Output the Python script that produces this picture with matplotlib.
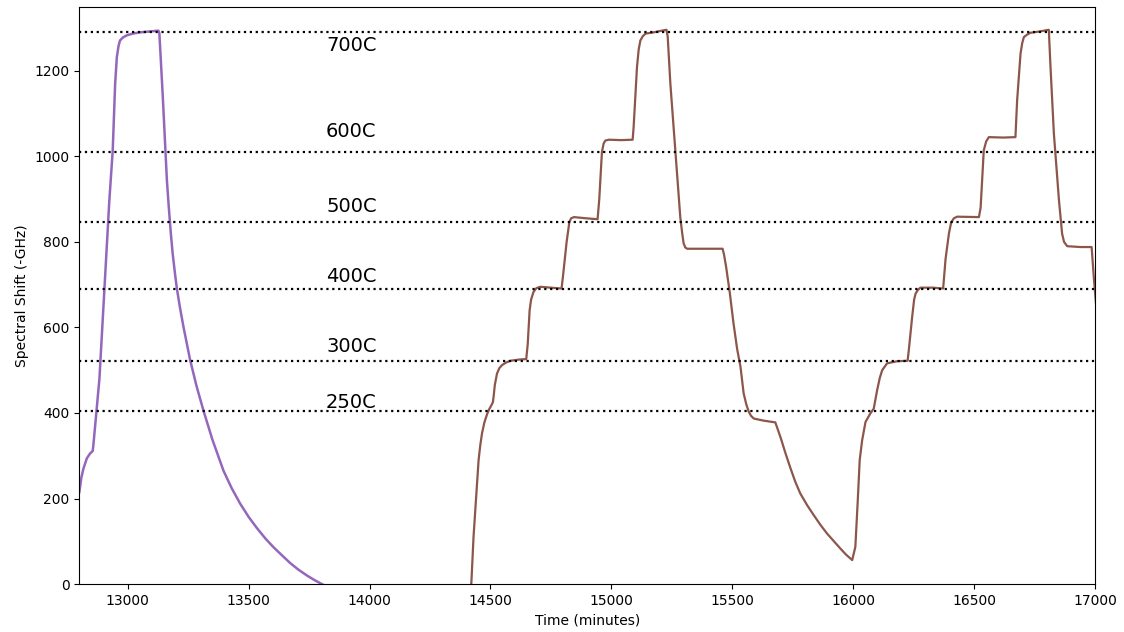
import matplotlib
matplotlib.use("Agg")
import matplotlib.pyplot as plt

# First heating run (purple trace)
run1_time = [12800, 12808, 12817, 12831, 12844, 12855, 12858, 12883, 12924, 12938,
             12948, 12955, 12962, 12968, 12980, 12996, 13020, 13051, 13090, 13127,
             13131, 13145, 13162, 13170, 13178, 13186, 13195, 13203, 13215, 13230,
             13258, 13285, 13313, 13350, 13396, 13430, 13465, 13500, 13534, 13570,
             13603, 13640, 13672, 13705, 13741, 13770, 13796, 13830]
run1_shift = [215, 248, 270, 294, 305, 311, 325, 480, 897, 1014,
              1170, 1232, 1258, 1271, 1278, 1283, 1287, 1290, 1292, 1294,
              1287, 1140, 944, 880, 822, 772, 728, 692, 650, 603,
              524, 462, 406, 338, 265, 224, 188, 157, 131, 106,
              86, 66, 49, 34, 20, 10, 2, -8]

# Stepped heating cycles (brown trace)
run2_time = [14410, 14421, 14426, 14430, 14435, 14440, 14445, 14451, 14458, 14465,
             14475, 14486, 14495, 14503, 14510, 14513, 14518, 14527, 14537, 14548,
             14565, 14582, 14620, 14648, 14654, 14662, 14668, 14678, 14690, 14706,
             14750, 14794, 14800, 14815, 14826, 14833, 14845, 14900, 14943, 14950,
             14961, 14968, 14975, 14990, 15040, 15088, 15092, 15106, 15113, 15120,
             15130, 15141, 15175, 15200, 15228, 15233, 15244, 15265, 15285, 15293,
             15299, 15306, 15313, 15400, 15460, 15466, 15475, 15490, 15505, 15520,
             15534, 15547, 15558, 15568, 15578, 15589, 15630, 15678, 15686, 15699,
             15720, 15740, 15760, 15781, 15810, 15837, 15865, 15892, 15920, 15947,
             15970, 15996, 16009, 16019, 16027, 16037, 16051, 16071, 16085, 16090,
             16099, 16110, 16120, 16140, 16182, 16225, 16230, 16244, 16252, 16258,
             16268, 16278, 16330, 16372, 16382, 16396, 16405, 16416, 16430, 16520,
             16527, 16540, 16550, 16561, 16620, 16671, 16678, 16692, 16699, 16706,
             16720, 16733, 16770, 16809, 16816, 16830, 16851, 16864, 16872, 16885,
             16940, 16986, 16996, 17005]
run2_shift = [-25, 2, 60, 110, 155, 196, 240, 290, 325, 352,
              378, 397, 409, 417, 425, 438, 465, 492, 505, 512,
              518, 522, 525, 526, 560, 640, 665, 683, 692, 695,
              693, 691, 720, 800, 845, 855, 858, 855, 853, 900,
              1010, 1030, 1037, 1039, 1038, 1039, 1068, 1209, 1250, 1271,
              1281, 1287, 1290, 1293, 1296, 1280, 1170, 1010, 858, 820,
              796, 787, 784, 784, 784, 770, 740, 680, 610, 550,
              508, 446, 420, 403, 393, 387, 382, 378, 365, 344,
              306, 272, 240, 212, 184, 161, 138, 118, 100, 83,
              69, 56, 87, 196, 290, 336, 379, 399, 410, 425,
              453, 482, 500, 516, 521, 522, 547, 625, 665, 679,
              688, 693, 693, 691, 760, 820, 845, 855, 859, 858,
              880, 1014, 1035, 1045, 1044, 1045, 1131, 1240, 1265, 1279,
              1285, 1289, 1292, 1296, 1209, 1053, 897, 819, 800, 790,
              788, 788, 710, 650]

# Reference shift levels for each furnace set point
level_names = ["700C", "600C", "500C", "400C", "300C", "250C"]
level_shift = [1290, 1011, 846, 690, 521, 405]
label_y = [1259, 1058, 883, 720, 556, 425]
label_x = 13820

fig = plt.figure(figsize=(11.24, 6.32), dpi=100)
ax = fig.add_axes([0.0706, 0.0759, 0.9036, 0.9135])

ax.plot(run1_time, run1_shift, color="#9467bd", lw=1.8)
ax.plot(run2_time, run2_shift, color="#8c564b", lw=1.6)

for name, lvl, ly in zip(level_names, level_shift, label_y):
    ax.axhline(lvl, color="black", ls=":", lw=1.6)
    ax.text(label_x, ly, name, fontsize=14, ha="left", va="center")

ax.set_xlim(12800, 17000)
ax.set_ylim(0, 1350)
ax.set_xticks([13000, 13500, 14000, 14500, 15000, 15500, 16000, 16500, 17000])
ax.set_yticks([0, 200, 400, 600, 800, 1000, 1200])
ax.tick_params(labelsize=10)
ax.set_xlabel("Time (minutes)", fontsize=10)
ax.set_ylabel("Spectral Shift (-GHz)", fontsize=10)

fig.savefig("out.png", dpi=100)
